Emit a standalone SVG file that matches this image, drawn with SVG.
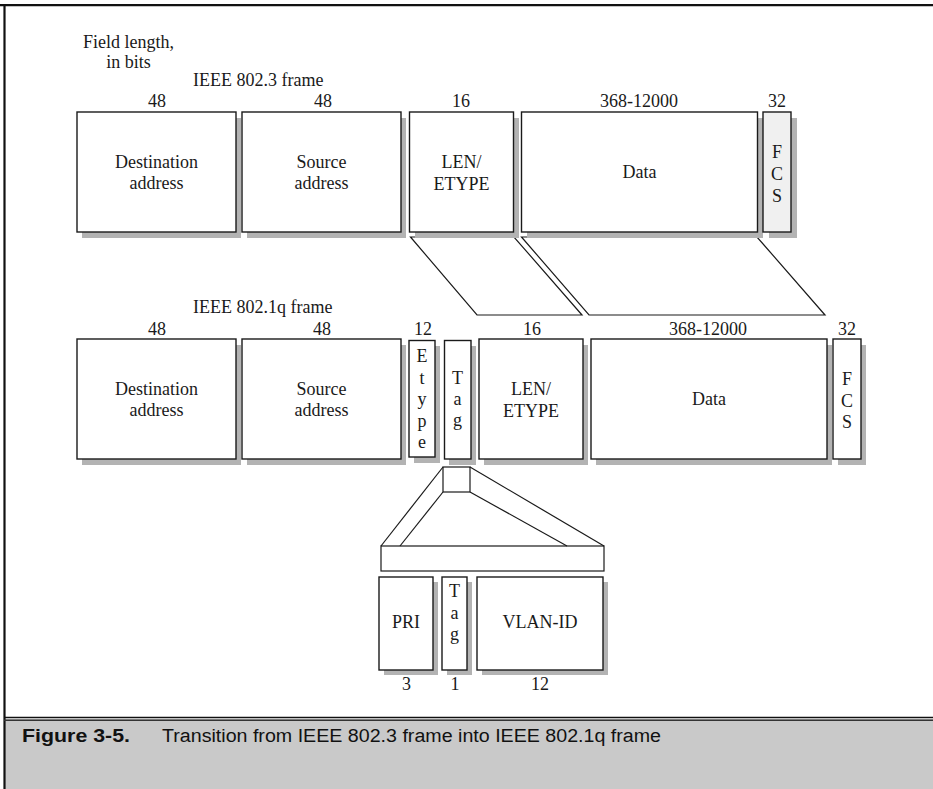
<svg xmlns="http://www.w3.org/2000/svg" width="933" height="789" viewBox="0 0 933 789">
<style>
.bx{fill:#fff;stroke:#1a1a1a;stroke-width:1.4}
.gr{fill:#f0f0f0;stroke:#1a1a1a;stroke-width:1.4}
.sh{fill:#b3b3b3}
.ln{fill:none;stroke:#1a1a1a;stroke-width:1.2}
text{font-family:"Liberation Serif","Times New Roman",serif;font-size:18px;fill:#1a1a1a}
.c{text-anchor:middle}
.cap{font-family:"Liberation Sans",Arial,sans-serif;font-size:18px;fill:#111}
</style>
<rect x="0" y="0" width="933" height="789" fill="#fff"/>
<g id="frame">
<rect x="5" y="719" width="928" height="70" fill="#c9c9c9"/>
<line x1="0" y1="5.2" x2="933" y2="5.2" stroke="#111" stroke-width="2.2"/>
<line x1="4.5" y1="4" x2="4.5" y2="789" stroke="#111" stroke-width="2.2"/>
<line x1="4" y1="717.5" x2="933" y2="717.5" stroke="#111" stroke-width="1.6"/>
<line x1="4" y1="720.3" x2="933" y2="720.3" stroke="#333" stroke-width="1.4"/>
</g>
<g id="titles">
<text class="c" x="128.5" y="48">Field length,</text>
<text class="c" x="128.5" y="68">in bits</text>
<text x="193" y="86">IEEE 802.3 frame</text>
<text x="193" y="313">IEEE 802.1q frame</text>
</g>
<g id="connectors">
<polygon class="ln" points="410.5,237 514,237 582,315 477,315"/>
<polygon class="ln" points="521.5,237 757,237 825,315 589,315"/>
<rect class="ln" x="443" y="467" width="27" height="25"/>
<line class="ln" x1="443" y1="467" x2="381" y2="546"/>
<line class="ln" x1="470" y1="467" x2="604" y2="546"/>
<line class="ln" x1="443" y1="492" x2="400" y2="546"/>
<line class="ln" x1="470" y1="492" x2="567" y2="546"/>
<rect class="ln" x="381" y="546" width="223" height="25"/>
</g>
<g id="r1-dest">
<rect class="sh" x="82" y="118" width="159" height="120"/>
<rect class="bx" x="77" y="112" width="159" height="120"/>
<text class="c" x="156.5" y="168">Destination</text>
<text class="c" x="156.5" y="189">address</text>
</g>
<g id="r1-src">
<rect class="sh" x="247" y="118" width="159" height="120"/>
<rect class="bx" x="242" y="112" width="159" height="120"/>
<text class="c" x="321.5" y="168">Source</text>
<text class="c" x="321.5" y="189">address</text>
</g>
<g id="r1-len">
<rect class="sh" x="415" y="118" width="104" height="120"/>
<rect class="bx" x="409.5" y="112" width="104" height="120"/>
<text class="c" x="461.5" y="168">LEN/</text>
<text class="c" x="461.5" y="190">ETYPE</text>
</g>
<g id="r1-data">
<rect class="sh" x="527" y="118" width="236" height="120"/>
<rect class="bx" x="521.5" y="112" width="236" height="120"/>
<text class="c" x="639.5" y="178">Data</text>
</g>
<g id="r1-fcs">
<rect class="sh" x="769" y="118" width="28" height="120"/>
<rect class="gr" x="763" y="112" width="28" height="120"/>
<text class="c" x="777" y="158">F</text>
<text class="c" x="777" y="180">C</text>
<text class="c" x="777" y="202">S</text>
</g>
<g id="r1-lengths">
<text class="c" x="157" y="107">48</text>
<text class="c" x="323" y="107">48</text>
<text class="c" x="461" y="107">16</text>
<text class="c" x="639" y="107">368-12000</text>
<text class="c" x="777" y="107">32</text>
</g>
<g id="r2-dest">
<rect class="sh" x="82" y="345" width="159" height="120"/>
<rect class="bx" x="77" y="339" width="159" height="120"/>
<text class="c" x="156.5" y="395">Destination</text>
<text class="c" x="156.5" y="416">address</text>
</g>
<g id="r2-src">
<rect class="sh" x="247" y="345" width="159" height="120"/>
<rect class="bx" x="242" y="339" width="159" height="120"/>
<text class="c" x="321.5" y="395">Source</text>
<text class="c" x="321.5" y="416">address</text>
</g>
<g id="r2-etype">
<rect class="sh" x="414" y="346" width="26" height="117"/>
<rect class="bx" x="409" y="340.5" width="26" height="116.5"/>
<text class="c" x="422" y="362">E</text>
<text class="c" x="422" y="383.5">t</text>
<text class="c" x="422" y="405">y</text>
<text class="c" x="422" y="426.5">p</text>
<text class="c" x="422" y="448">e</text>
</g>
<g id="r2-tag">
<rect class="sh" x="449" y="346" width="27" height="119"/>
<rect class="bx" x="444.5" y="340.5" width="26.5" height="118.5"/>
<text class="c" x="457.5" y="384">T</text>
<text class="c" x="457.5" y="405">a</text>
<text class="c" x="457.5" y="426">g</text>
</g>
<g id="r2-len">
<rect class="sh" x="484" y="345" width="104" height="120"/>
<rect class="bx" x="479" y="339" width="104" height="120"/>
<text class="c" x="531" y="395">LEN/</text>
<text class="c" x="531" y="417">ETYPE</text>
</g>
<g id="r2-data">
<rect class="sh" x="596" y="345" width="236" height="120"/>
<rect class="bx" x="591" y="339" width="236" height="120"/>
<text class="c" x="709" y="405">Data</text>
</g>
<g id="r2-fcs">
<rect class="sh" x="838" y="345" width="28" height="120"/>
<rect class="bx" x="833" y="339" width="28" height="120"/>
<text class="c" x="847" y="385">F</text>
<text class="c" x="847" y="407">C</text>
<text class="c" x="847" y="428">S</text>
</g>
<g id="r2-lengths">
<text class="c" x="157" y="335">48</text>
<text class="c" x="322" y="335">48</text>
<text class="c" x="423" y="335">12</text>
<text class="c" x="532" y="335">16</text>
<text class="c" x="708" y="335">368-12000</text>
<text class="c" x="847" y="335">32</text>
</g>
<g id="t-pri">
<rect class="sh" x="384" y="582" width="54" height="93"/>
<rect class="bx" x="379" y="577" width="54" height="93"/>
<text class="c" x="406" y="628">PRI</text>
</g>
<g id="t-tag">
<rect class="sh" x="447" y="582" width="25" height="93"/>
<rect class="bx" x="442" y="577" width="25" height="93"/>
<text class="c" x="454.5" y="597">T</text>
<text class="c" x="454.5" y="619">a</text>
<text class="c" x="454.5" y="640">g</text>
</g>
<g id="t-vlan">
<rect class="sh" x="482" y="582" width="126" height="93"/>
<rect class="bx" x="477" y="577" width="126" height="93"/>
<text class="c" x="540" y="628">VLAN-ID</text>
</g>
<g id="t-lengths">
<text class="c" x="406.5" y="690">3</text>
<text class="c" x="455" y="690">1</text>
<text class="c" x="540" y="690">12</text>
</g>
<g id="caption">
<text class="cap" x="22" y="742" font-weight="bold" textLength="108" lengthAdjust="spacingAndGlyphs">Figure 3-5.</text>
<text class="cap" x="162" y="742" textLength="499" lengthAdjust="spacingAndGlyphs">Transition from IEEE 802.3 frame into IEEE 802.1q frame</text>
</g>
</svg>
